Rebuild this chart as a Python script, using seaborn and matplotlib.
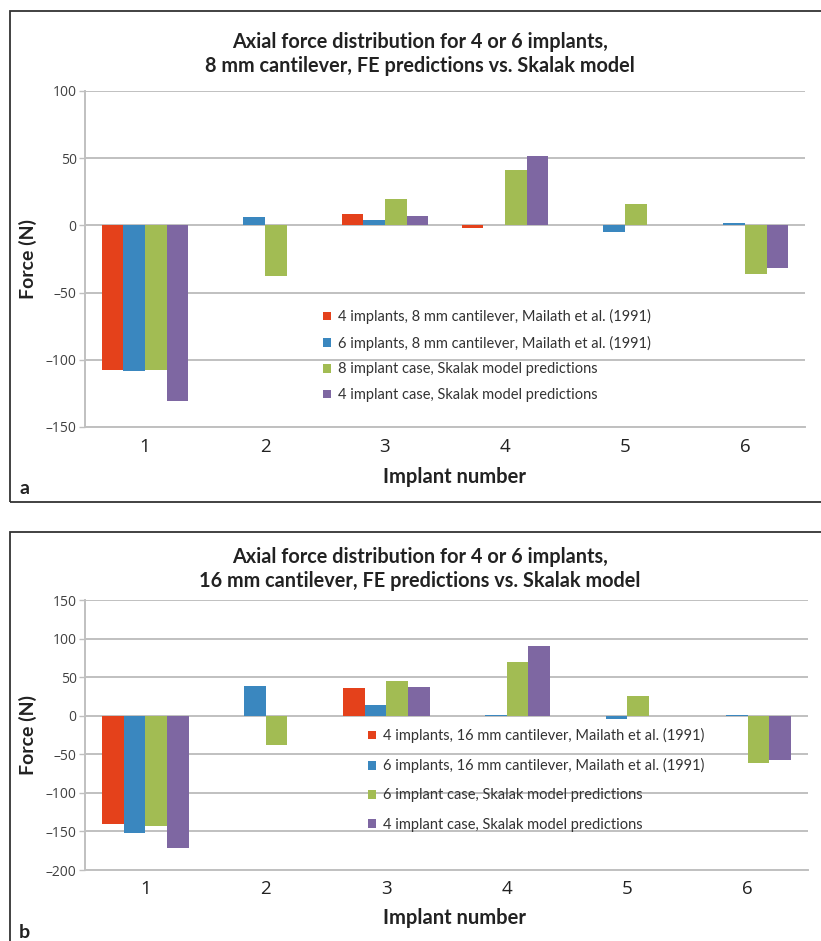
import pandas as pd
import matplotlib.pyplot as plt
import seaborn as sns
from matplotlib.patches import Rectangle

implants = ['1', '2', '3', '4', '5', '6']
colors = ['#E4411B', '#3A87BF', '#A2BC53', '#7E67A2']

# panel a: 8 mm cantilever
labels_a = ['4 implants, 8 mm cantilever, Mailath et al. (1991)',
            '6 implants, 8 mm cantilever, Mailath et al. (1991)',
            '8 implant case, Skalak model predictions',
            '4 implant case, Skalak model predictions']
red_a = [-107.5, 0, 8.5, -2, 0, 0]
blue_a = [-108, 6, 3.75, 0, -5, 1.5]
green_a = [-107.5, -37.5, 20, 41, 16, -36]
purple_a = [-130.5, 0, 7.25, 52, 0, -32]

# panel b: 16 mm cantilever
labels_b = ['4 implants, 16 mm cantilever, Mailath et al. (1991)',
            '6 implants, 16 mm cantilever, Mailath et al. (1991)',
            '6 implant case, Skalak model predictions',
            '4 implant case, Skalak model predictions']
red_b = [-140.5, 0, 36, 0, 0, 0]
blue_b = [-152.5, 39, 14, 1, -4, 1]
green_b = [-143, -38, 45, 70, 26, -61]
purple_b = [-172, 0, 37.5, 91, 0, -57.5]

titles = ['Axial force distribution for 4 or 6 implants,\n8 mm cantilever, FE predictions vs. Skalak model',
          'Axial force distribution for 4 or 6 implants,\n16 mm cantilever, FE predictions vs. Skalak model']


def long_form(labels, series):
    rows = []
    for lab, vals in zip(labels, series):
        for imp, v in zip(implants, vals):
            rows.append({'Implant number': imp, 'series': lab, 'Force (N)': v})
    return pd.DataFrame(rows)


W, H = 821, 941
fig = plt.figure(figsize=(W / 100, H / 100), dpi=100)


def fx(px):
    return px / W


def fy(py):
    return 1 - py / H


def draw_panel(df, labels, ylim, yticks, box, axpos, title_y, xpad, xlab_y, letter_y, letter, leg_pos, leg_space):
    left, top, right, bottom = axpos
    ax = fig.add_axes([fx(left), fy(bottom), fx(right - left), (bottom - top) / H])
    sns.barplot(data=df, x='Implant number', y='Force (N)', hue='series', hue_order=labels,
                palette=colors, width=0.72, saturation=1, ax=ax, errorbar=None, linewidth=0)
    ax.set_ylim(*ylim)
    ax.set_yticks(yticks)
    ax.set_yticklabels([str(t).replace('-', '\u2013') for t in yticks], fontsize=10,
                       color='#404040', family='Open Sans')
    ax.set_xticks(range(6))
    ax.set_xticklabels(implants, fontsize=13.5, color='#222222', family='Open Sans')
    ax.tick_params(axis='x', length=0, pad=xpad)
    ax.tick_params(axis='y', length=4, color='#bfbfbf', width=1, pad=2)
    ax.set_xlim(-0.5, 5.5)
    ax.set_xlabel('')
    ax.set_ylabel('')
    ax.grid(axis='y', color='#c0c0c0', linewidth=1.4)
    ax.grid(axis='x', visible=False)
    ax.set_axisbelow(True)
    for s in ['top', 'right']:
        ax.spines[s].set_visible(False)
    for s in ['left', 'bottom']:
        ax.spines[s].set_color('#c0c0c0')
        ax.spines[s].set_linewidth(1.4)

    handles, labs = ax.get_legend_handles_labels()
    ax.legend(handles, labs, loc='upper left', bbox_to_anchor=(fx(leg_pos[0]), fy(leg_pos[1])),
              bbox_transform=fig.transFigure, frameon=False, borderpad=0, borderaxespad=0,
              handlelength=0.55, handleheight=0.55, handletextpad=0.45, labelspacing=leg_space,
              prop={'family': 'Lato', 'size': 10.5}, labelcolor='#333333')

    fig.text(fx(420), fy(title_y), titles[0 if letter == 'a' else 1], ha='center', va='center',
             fontsize=14.3, fontweight='bold', family='Lato', color='#222222', linespacing=1.2)
    fig.text(fx(454), fy(xlab_y), 'Implant number', ha='center', va='center',
             fontsize=14.5, fontweight='bold', family='Lato', color='#222222')
    fig.text(fx(28), fy((top + bottom) / 2), 'Force (N)', ha='center', va='center', rotation=90,
             fontsize=14, fontweight='bold', family='Lato', color='#222222')
    fig.text(fx(24), fy(letter_y), letter, ha='center', va='center',
             fontsize=14, fontweight='bold', family='Lato', color='#222222')

    bx0, by0, by1 = box
    fig.patches.append(Rectangle((fx(bx0), fy(by1)), fx(W + 20 - bx0), (by1 - by0) / H,
                                 transform=fig.transFigure, fill=False, edgecolor='#333333',
                                 linewidth=1.3, figure=fig))
    return ax


df_a = long_form(labels_a, [red_a, blue_a, green_a, purple_a])
df_b = long_form(labels_b, [red_b, blue_b, green_b, purple_b])

draw_panel(df_a, labels_a, (-150, 100), [-150, -100, -50, 0, 50, 100], (10, 11, 502),
           (85, 91, 805, 427), 54, 8, 477, 489, 'a', (323, 309), 0.8)
draw_panel(df_b, labels_b, (-200, 150), [-200, -150, -100, -50, 0, 50, 100, 150], (10, 532, 960),
           (85, 600, 808, 870), 569, 7, 918, 933, 'b', (368, 728), 1.04)

fig.savefig('out.png', dpi=100)
